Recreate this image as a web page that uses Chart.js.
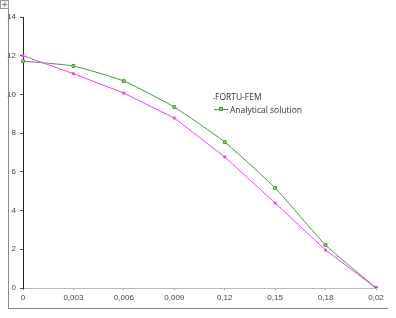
<!DOCTYPE html>
<html>
<head>
<meta charset="utf-8">
<script src="https://cdn.jsdelivr.net/npm/chart.js@4/dist/chart.umd.min.js"></script>
<style>
  html, body { margin: 0; padding: 0; background: #fff; }
  #wrap { position: relative; width: 396px; height: 318px; }
  #frameL { position: absolute; left: 8px; top: 5px; width: 1px; height: 304px; background: #8a8a8a; }
  #frameB { position: absolute; left: 8px; top: 308px; width: 380px; height: 1px; background: #8a8a8a; }
  #icon { position: absolute; left: 0; top: 0; width: 7px; height: 7px; border: 1px solid #999; background: #f4f4f4;
          font: 8px/7px "DejaVu Sans", sans-serif; color: #666; text-align: center; }
  #legend { position: absolute; left: 200px; top: 90px; font: 8.5px "Open Sans", "Liberation Sans", sans-serif; color: #333; }
  .item { position: relative; height: 13px; padding-left: 30px; white-space: nowrap; line-height: 13px; }
  .line { position: absolute; top: 6px; height: 1px; }
  .mark { position: absolute; top: 4px; }
</style>
</head>
<body>
<div id="wrap">
  <canvas id="c" width="396" height="318"></canvas>
  <div id="frameL"></div>
  <div id="frameB"></div>
  <div id="icon">+</div>
  <div id="legend">
    <div class="item" style="padding-left:15px;"><span class="line" style="left:13px;width:2px;top:8px;background:#ee44ee;"></span>FORTU-FEM</div>
    <div class="item"><span class="line" style="left:14px;width:14px;background:#3d9a3d;"></span><span class="mark" style="left:19px;width:2px;height:2px;background:#a6d14a;border:1px solid #4a9a2a;"></span>Analytical solution</div>
  </div>
</div>
<script>
const labels = ['0', '0,003', '0,006', '0,009', '0,12', '0,15', '0,18', '0,02'];
const fortuFem = [12.0, 11.07, 10.07, 8.78, 6.77, 4.39, 1.96, 0];
const analytical = [11.72, 11.47, 10.69, 9.35, 7.54, 5.17, 2.22, 0];

new Chart(document.getElementById('c'), {
  type: 'line',
  data: {
    labels,
    datasets: [
      {
        label: 'FORTU-FEM',
        data: fortuFem,
        borderColor: '#ee44ee',
        backgroundColor: '#ee44ee',
        borderWidth: 1,
        pointStyle: 'rect',
        pointRadius: 2,
        pointBorderWidth: 0,
        tension: 0
      },
      {
        label: 'Analytical solution',
        data: analytical,
        borderColor: '#3d9a3d',
        backgroundColor: '#a6d14a',
        borderWidth: 1,
        pointStyle: 'rect',
        pointRadius: 2,
        pointBorderColor: '#4a9a2a',
        pointBorderWidth: 1,
        tension: 0.15
      }
    ]
  },
  options: {
    responsive: false,
    animation: false,
    layout: { padding: { left: 0, right: 20, top: 17, bottom: 0 } },
    plugins: { legend: { display: false }, tooltip: { enabled: false } },
    scales: {
      x: {
        offset: false,
        border: { display: true, color: '#b8b8b8' },
        grid: { display: true, drawOnChartArea: false, drawTicks: true, tickLength: 2, color: '#999' },
        ticks: { color: '#444', font: { size: 8, family: 'Liberation Sans' }, padding: 3, maxRotation: 0, autoSkip: false },
        afterFit: s => { s.height = 30; }
      },
      y: {
        min: 0, max: 14,
        border: { display: true, color: '#222' },
        grid: { display: true, drawOnChartArea: false, drawTicks: true, tickLength: 3, color: '#555' },
        ticks: { stepSize: 2, color: '#444', font: { size: 8, family: 'Liberation Sans' }, padding: 4 },
        afterFit: s => { s.width = 23; }
      }
    }
  }
});
</script>
</body>
</html>
